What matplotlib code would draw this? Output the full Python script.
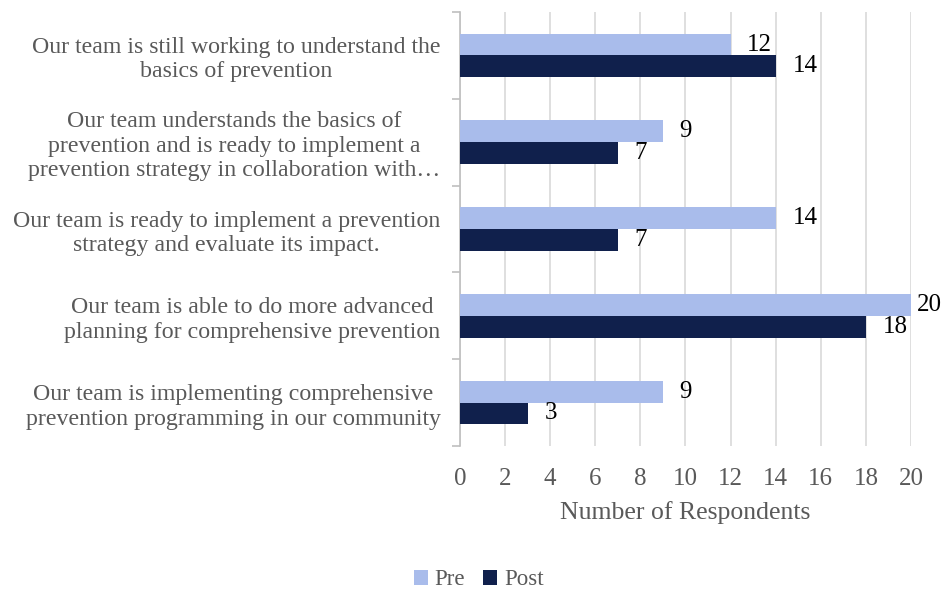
import numpy as np
import matplotlib.pyplot as plt

plt.rcParams['font.family'] = ['Liberation Serif', 'DejaVu Serif']

categories = [
    'Our team is still working to understand the\nbasics of prevention',
    'Our team understands the basics of\nprevention and is ready to implement a\nprevention strategy in collaboration with\u2026',
    'Our team is ready to implement a prevention\nstrategy and evaluate its impact.',
    'Our team is able to do more advanced\nplanning for comprehensive prevention',
    'Our team is implementing comprehensive\nprevention programming in our community',
]
pre = [12, 9, 14, 20, 9]
post = [14, 7, 7, 18, 3]
series = ['Pre', 'Post']
colors = ['#A9BCEB', '#10204C']
xmax = 20

fig = plt.figure(figsize=(9.48, 5.9), dpi=100)
ax = fig.add_axes([0.4852, 0.244, 0.961 - 0.4852, 0.9797 - 0.244])

h = 0.25
y = np.arange(len(categories))
b1 = ax.barh(y - h / 2, pre, height=h, color=colors[0], label=series[0], zorder=3)
b2 = ax.barh(y + h / 2, post, height=h, color=colors[1], label=series[1], zorder=3)

for bars, vals in ((b1, pre), (b2, post)):
    for r, v in zip(bars, vals):
        # labels at the right end of the axis are pulled in so they stay on the canvas
        off = 4 if v >= xmax else 12
        ax.annotate(str(v), (v, r.get_y() + r.get_height() / 2), xytext=(off, 0),
                    textcoords='offset points', ha='left', va='center',
                    fontsize=18, color='black', zorder=4)

ax.set_ylim(len(categories) - 0.5, -0.5)
ax.set_xlim(0, xmax)
ax.set_xticks(np.arange(0, xmax + 1, 2))
ax.grid(axis='x', color='#D9D9D9', linewidth=1.2, zorder=0)

# category boundaries get the tick marks, labels sit at the centres
ax.set_yticks(np.arange(-0.5, len(categories), 1.0))
ax.set_yticklabels([])
ax.set_yticks(y, minor=True)
ax.set_yticklabels(categories, minor=True, fontsize=17.2, color='#595959',
                   multialignment='center', linespacing=1.22)
ax.tick_params(axis='y', which='minor', length=0, pad=14)
ax.tick_params(axis='y', which='major', length=6, color='#BFBFBF', width=1.2)
ax.tick_params(axis='x', length=0, labelsize=18, labelcolor='#595959', pad=16)

for s in ('top', 'right', 'bottom'):
    ax.spines[s].set_visible(False)
ax.spines['left'].set_color('#BFBFBF')
ax.spines['left'].set_linewidth(1.2)

ax.set_xlabel('Number of Respondents', fontsize=18.5, color='#595959', labelpad=8)

fig.legend(handles=[b1, b2], loc='center', bbox_to_anchor=(0.505, 0.017),
           ncol=2, frameon=False, fontsize=16.5, labelcolor='#595959',
           handlelength=0.6, handleheight=0.6, handletextpad=0.3,
           columnspacing=0.8)

fig.savefig('out.png', dpi=100)
